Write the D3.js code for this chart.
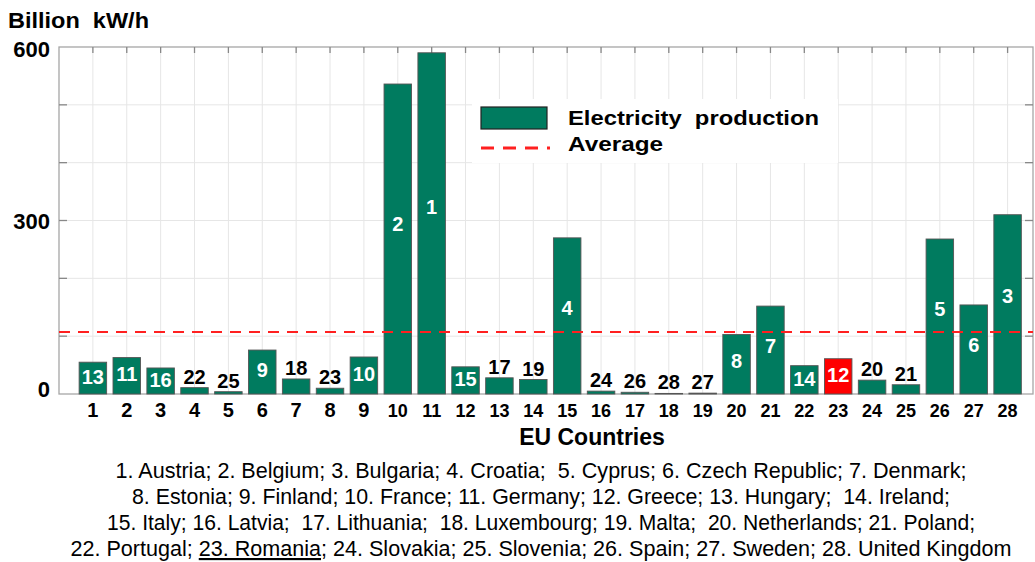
<!DOCTYPE html>
<html><head><meta charset="utf-8">
<script src="https://cdn.jsdelivr.net/npm/d3@7"></script>
<style>body{margin:0;background:#fff}svg{display:block}text{font-family:"Liberation Sans",Arial,sans-serif}</style>
</head><body><svg id="c" width="1035" height="562"></svg>
<script>
const countries = d3.range(1, 29);
const production = [55,63,45,11,4,76,26,10,64,536,590,47,28,25,270,5,3,1,1.5,103,152,49,61,24,16,268,154,310];
const ranks = [13,11,16,22,25,9,18,23,10,2,1,15,17,19,4,24,26,28,27,8,7,14,12,20,21,5,6,3];
const rankInside = [1,1,1,0,0,1,0,0,1,1,1,1,0,0,1,0,0,0,0,1,1,1,1,0,0,1,1,1];
const highlight = 23;
const average = 107;
const yTickLabels = [0,300,600];
const legendLines = [
  "1. Austria; 2. Belgium; 3. Bulgaria; 4. Croatia;  5. Cyprus; 6. Czech Republic; 7. Denmark;",
  "8. Estonia; 9. Finland; 10. France; 11. Germany; 12. Greece; 13. Hungary;  14. Ireland;",
  "15. Italy; 16. Latvia;  17. Lithuania;  18. Luxembourg; 19. Malta;  20. Netherlands; 21. Poland;",
  ["22. Portugal; ", "23. Romania", "; 24. Slovakia; 25. Slovenia; 26. Spain; 27. Sweden; 28. United Kingdom"]
];
const legendWidths = [851, 818, 868, 941];

const svg = d3.select("#c");
const L = 59, R = 1033, T = 47, B = 394;
const x = d3.scaleLinear().domain([0, 28.75]).range([L, R]);
const y = d3.scaleLinear().domain([0, 600]).range([B, T]);
const bw = 27.5;
const green = "#007B5F";

// grid
const g = svg.append("g");
g.selectAll(".vg").data(countries).join("line")
  .attr("x1", d => x(d)).attr("x2", d => x(d)).attr("y1", T).attr("y2", B)
  .attr("stroke", "#e6e6e6").attr("stroke-width", 1);
g.selectAll(".hg").data(d3.range(100, 600, 100)).join("line")
  .attr("x1", L).attr("x2", R).attr("y1", d => y(d)).attr("y2", d => y(d))
  .attr("stroke", "#e6e6e6").attr("stroke-width", 1);

// legend background
svg.append("rect").attr("x", 472).attr("y", 99).attr("width", 366).attr("height", 64).attr("fill", "#fff");

// frame
const fc = "#a6a6a6";
svg.append("rect").attr("x", L).attr("y", T).attr("width", R - L).attr("height", B - T)
  .attr("fill", "none").attr("stroke", fc).attr("stroke-width", 1.3);
svg.selectAll(".tt").data(countries).join("line")
  .attr("x1", d => x(d)).attr("x2", d => x(d)).attr("y1", T).attr("y2", T + 6)
  .attr("stroke", "#888").attr("stroke-width", 1.3);
svg.selectAll(".lt").data(d3.range(100, 600, 100)).join("line")
  .attr("x1", L).attr("x2", L + 8).attr("y1", d => y(d)).attr("y2", d => y(d))
  .attr("stroke", "#888").attr("stroke-width", 1.3);
svg.selectAll(".rt").data(d3.range(100, 600, 100)).join("line")
  .attr("x1", R - 8).attr("x2", R).attr("y1", d => y(d)).attr("y2", d => y(d))
  .attr("stroke", "#888").attr("stroke-width", 1.3);

// bars
svg.selectAll(".bar").data(countries).join("rect")
  .attr("x", d => x(d) - bw / 2).attr("width", bw)
  .attr("y", (d, i) => y(production[i])).attr("height", (d, i) => B - y(production[i]))
  .attr("fill", d => d === highlight ? "#ff0000" : green)
  .attr("stroke", "#555").attr("stroke-width", 0.9);

// average line
svg.append("line").attr("x1", L).attr("x2", R).attr("y1", y(average)).attr("y2", y(average))
  .attr("stroke", "#ff2020").attr("stroke-width", 2).attr("stroke-dasharray", "11,8");

// rank labels
svg.selectAll(".rk").data(countries).join("text")
  .attr("x", d => x(d))
  .attr("y", (d, i) => rankInside[i] ? y(production[i] * 0.55) : y(production[i]) - 4)
  .attr("dy", (d, i) => rankInside[i] ? "0.36em" : 0)
  .attr("text-anchor", "middle").attr("font-weight", "bold").attr("font-size", 20)
  .attr("fill", (d, i) => rankInside[i] ? "#fff" : "#000")
  .text((d, i) => ranks[i]);

// x tick labels
svg.selectAll(".xl").data(countries).join("text")
  .attr("x", d => x(d)).attr("y", 417)
  .attr("text-anchor", "middle").attr("font-weight", "bold")
  .attr("font-size", d => d < 10 ? 20 : 18)
  .text(d => d);

// y tick labels
svg.selectAll(".yl").data(yTickLabels).join("text")
  .attr("x", 50).attr("y", d => y(d) + (d === 0 ? 3 : d === 600 ? 10 : 8))
  .attr("text-anchor", "end").attr("font-weight", "bold").attr("font-size", 22)
  .text(d => d);

svg.append("text").attr("x", 8).attr("y", 28).attr("font-weight", "bold").attr("font-size", 22)
  .attr("textLength", 141).attr("lengthAdjust", "spacingAndGlyphs")
  .style("white-space", "pre").text("Billion  kW/h");

svg.append("text").attr("x", 592).attr("y", 445).attr("text-anchor", "middle")
  .attr("font-weight", "bold").attr("font-size", 23).text("EU Countries");

// legend
svg.append("rect").attr("x", 481).attr("y", 107).attr("width", 66).attr("height", 22)
  .attr("fill", green).attr("stroke", "#222").attr("stroke-width", 1.2);
svg.append("line").attr("x1", 481).attr("x2", 550).attr("y1", 148).attr("y2", 148)
  .attr("stroke", "#ff2020").attr("stroke-width", 3).attr("stroke-dasharray", "13,9");
svg.append("text").attr("x", 568).attr("y", 125).attr("font-weight", "bold").attr("font-size", 21)
  .attr("textLength", 251).attr("lengthAdjust", "spacingAndGlyphs")
  .style("white-space", "pre").text("Electricity  production");
svg.append("text").attr("x", 568).attr("y", 151).attr("font-weight", "bold").attr("font-size", 21)
  .attr("textLength", 95).attr("lengthAdjust", "spacingAndGlyphs")
  .text("Average");

// country list
legendLines.forEach((ln, i) => {
  const t = svg.append("text").attr("x", 541).attr("y", 478 + i * 26)
    .attr("text-anchor", "middle").attr("font-size", 21.5)
    .attr("textLength", legendWidths[i]).attr("lengthAdjust", "spacingAndGlyphs")
    .style("white-space", "pre");
  if (Array.isArray(ln)) {
    ln.forEach((part, j) => {
      const s = t.append("tspan").text(part);
      if (j === 1) s.attr("text-decoration", "underline");
    });
  } else t.text(ln);
});
</script></body></html>
